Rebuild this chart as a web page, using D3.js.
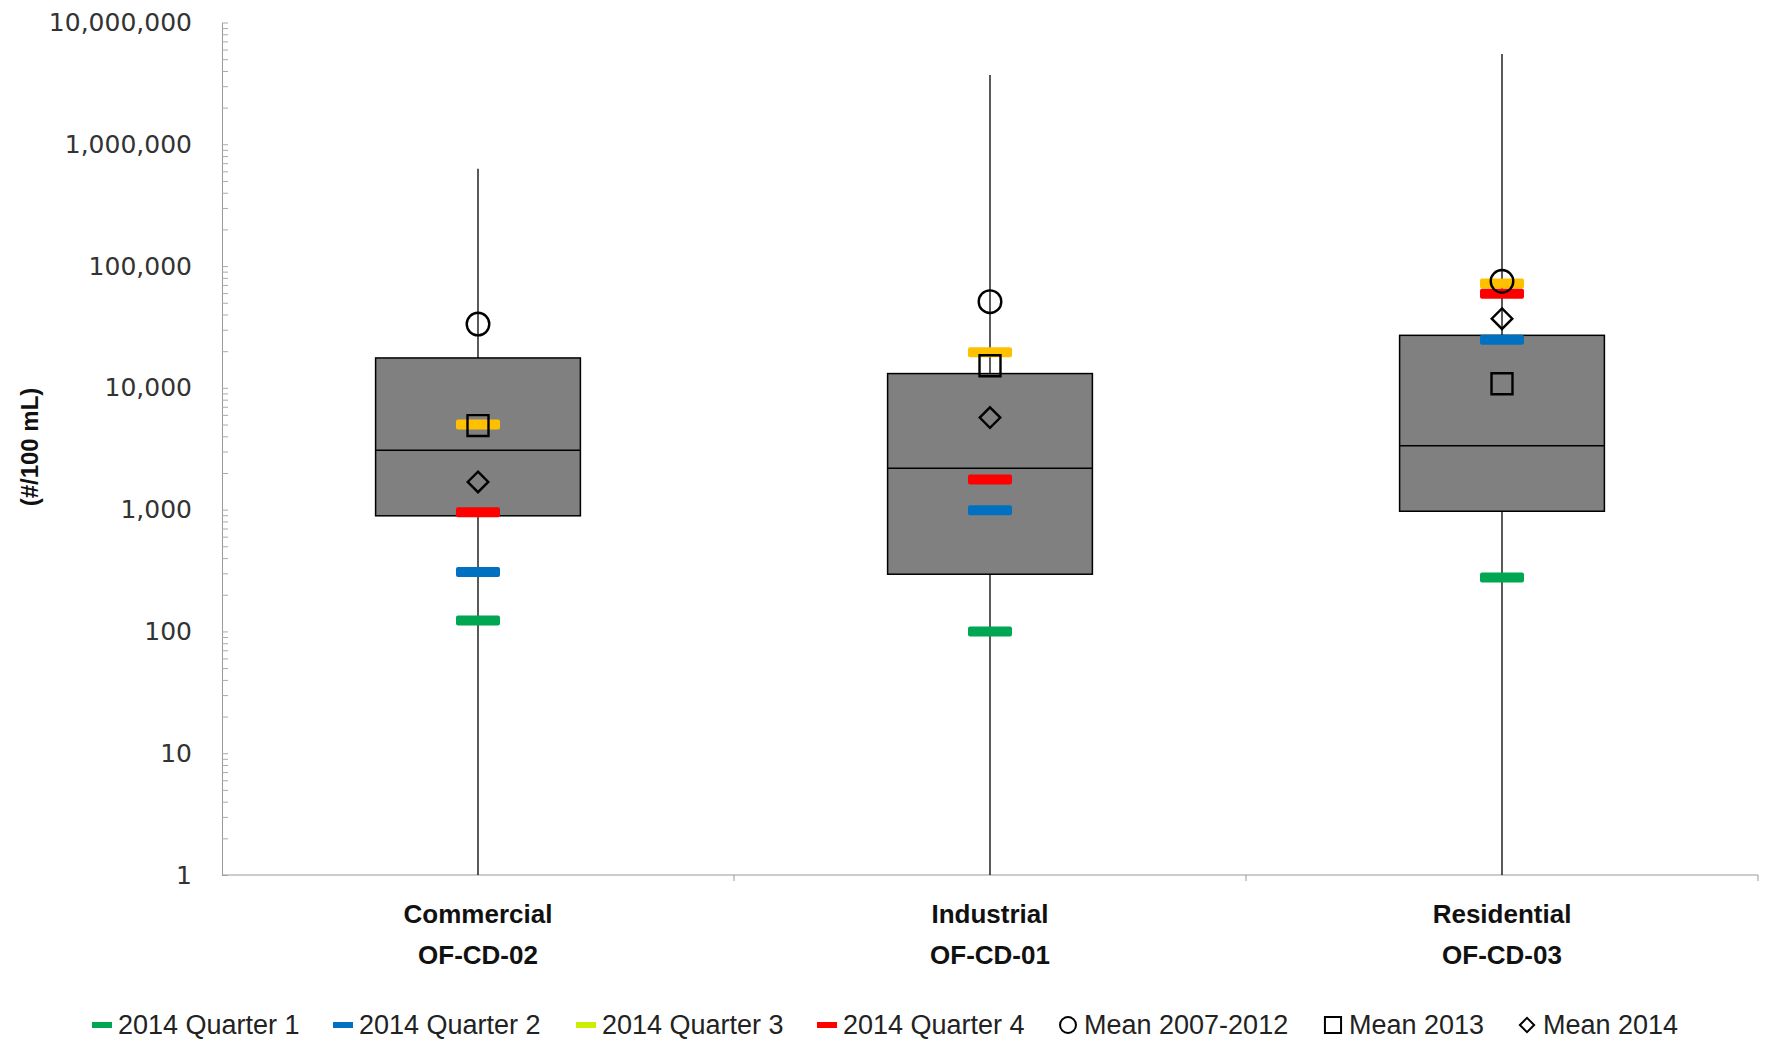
<!DOCTYPE html>
<html lang="en">
<head>
<meta charset="utf-8">
<title>Box plot by land use</title>
<script src="https://cdn.jsdelivr.net/npm/d3@7"></script>
<style>
  body { margin: 0; background: #fff; }
</style>
</head>
<body>
<div id="chart"></div>
<script>
// data
var landUse = ["Commercial", "Industrial", "Residential"];
var sites = ["OF-CD-02", "OF-CD-01", "OF-CD-03"];

var whiskerLow = [1, 1, 1];
var boxQ1 = [890, 295, 970];
var boxMedian = [3070, 2190, 3340];
var boxQ3 = [17600, 13100, 27000];
var whiskerHigh = [630000, 3700000, 5500000];

var quarter1 = [123, 100, 277];
var quarter2 = [308, 990, 24800];
var quarter3 = [5000, 19600, 72000];
var quarter4 = [950, 1770, 59300];

var mean0712 = [33400, 51000, 75000];
var mean2013 = [4900, 15200, 10800];
var mean2014 = [1690, 5700, 37000];

var yTicks = [1, 10, 100, 1000, 10000, 100000, 1000000, 10000000];

var width = 1765, height = 1044;
var plotLeft = 222, plotRight = 1758, plotTop = 22.5, plotBottom = 875;

var svg = d3.select("#chart").append("svg")
    .attr("width", width)
    .attr("height", height);

var x = d3.scaleBand().domain(landUse).range([plotLeft, plotRight]);
var y = d3.scaleLog().domain([1, 1e7]).range([plotBottom, plotTop]);

// minor ticks for each decade
var minor = [];
for (var e = 0; e < 7; e++) {
  for (var m = 1; m < 10; m++) minor.push(m * Math.pow(10, e));
}
minor.push(1e7);

var yAxis = svg.append("g")
    .attr("transform", "translate(" + plotLeft + ",0)")
    .call(d3.axisLeft(y).tickValues(yTicks).tickFormat(d3.format(",")).tickSize(0).tickPadding(30));
yAxis.selectAll("text").attr("font-family", "DejaVu Sans").attr("font-size", 25).attr("fill", "#333");
yAxis.select(".domain").attr("stroke", "#999");

var yMinor = svg.append("g")
    .attr("transform", "translate(" + plotLeft + ",0)")
    .call(d3.axisRight(y).tickValues(minor).tickFormat("").tickSize(6));
yMinor.select(".domain").remove();
yMinor.selectAll("line").attr("stroke", "#aaa");

var xAxis = svg.append("g")
    .attr("transform", "translate(0," + plotBottom + ")");
xAxis.append("line")
    .attr("x1", plotLeft).attr("x2", plotRight)
    .attr("stroke", "#999");
xAxis.selectAll(".bnd")
    .data(landUse.slice(1).concat(["end"]))
  .enter().append("line")
    .attr("x1", function(d) { return d === "end" ? plotRight : x(d); })
    .attr("x2", function(d) { return d === "end" ? plotRight : x(d); })
    .attr("y1", 0).attr("y2", 6)
    .attr("stroke", "#999");

var labels = xAxis.selectAll(".cat")
    .data(landUse)
  .enter().append("text")
    .attr("text-anchor", "middle")
    .attr("font-family", "Liberation Sans Narrow, Arial Narrow, sans-serif")
    .attr("font-weight", "bold")
    .attr("font-size", 26)
    .attr("fill", "#111");
labels.append("tspan")
    .attr("x", function(d) { return x(d) + x.bandwidth() / 2; })
    .attr("y", 48)
    .text(function(d) { return d; });
labels.append("tspan")
    .attr("x", function(d) { return x(d) + x.bandwidth() / 2; })
    .attr("y", 89)
    .text(function(d, i) { return sites[i]; });

svg.append("text")
    .attr("transform", "translate(38,447) rotate(-90)")
    .attr("text-anchor", "middle")
    .attr("font-family", "Liberation Sans Narrow, Arial Narrow, sans-serif")
    .attr("font-weight", "bold")
    .attr("font-size", 24)
    .attr("fill", "#111")
    .text("(#/100 mL)");

var cx = function(i) { return x(landUse[i]) + x.bandwidth() / 2; };
var boxW = x.bandwidth() * 0.4;

var plot = svg.append("g");

landUse.forEach(function(c, i) {
  plot.append("line")
      .attr("x1", cx(i)).attr("x2", cx(i))
      .attr("y1", y(whiskerLow[i])).attr("y2", y(whiskerHigh[i]))
      .attr("stroke", "#000").attr("stroke-width", 1.3);
  plot.append("rect")
      .attr("x", cx(i) - boxW / 2)
      .attr("y", y(boxQ3[i]))
      .attr("width", boxW)
      .attr("height", y(boxQ1[i]) - y(boxQ3[i]))
      .attr("fill", "#808080")
      .attr("stroke", "#000").attr("stroke-width", 1.5);
  plot.append("line")
      .attr("x1", cx(i) - boxW / 2).attr("x2", cx(i) + boxW / 2)
      .attr("y1", y(boxMedian[i])).attr("y2", y(boxMedian[i]))
      .attr("stroke", "#000").attr("stroke-width", 1.5);
});

var quarters = [
  {name: "2014 Quarter 1", values: quarter1, color: "#00a651"},
  {name: "2014 Quarter 2", values: quarter2, color: "#0070c0"},
  {name: "2014 Quarter 3", values: quarter3, color: "#ffc000"},
  {name: "2014 Quarter 4", values: quarter4, color: "#ff0000"}
];

quarters.forEach(function(q) {
  plot.selectAll(null)
      .data(q.values)
    .enter().append("rect")
      .attr("x", function(d, i) { return cx(i) - 22; })
      .attr("y", function(d) { return y(d) - 5; })
      .attr("width", 44)
      .attr("height", 10)
      .attr("rx", 2)
      .attr("fill", q.color);
});

var circleSym = d3.symbol().type(d3.symbolCircle).size(400);
var squareSym = d3.symbol().type(d3.symbolSquare).size(440);
var diamondSym = d3.symbol().type(d3.symbolDiamond2).size(270);

var means = [
  {name: "Mean 2007-2012", values: mean0712, sym: circleSym},
  {name: "Mean 2013", values: mean2013, sym: squareSym},
  {name: "Mean 2014", values: mean2014, sym: diamondSym}
];

means.forEach(function(m) {
  plot.selectAll(null)
      .data(m.values)
    .enter().append("path")
      .attr("transform", function(d, i) { return "translate(" + cx(i) + "," + y(d) + ")"; })
      .attr("d", m.sym)
      .attr("fill", "none")
      .attr("stroke", "#000")
      .attr("stroke-width", 2.4);
});

// legend
var legendX = [92, 333, 576, 817, 1058, 1323, 1517];
var legend = svg.append("g").attr("transform", "translate(0,1025)");

quarters.forEach(function(q, i) {
  legend.append("rect")
      .attr("x", legendX[i]).attr("y", -3)
      .attr("width", 20).attr("height", 6)
      .attr("fill", i === 2 ? "#ccee00" : q.color);
  legend.append("text")
      .attr("x", legendX[i] + 26).attr("y", 9)
      .attr("font-family", "Liberation Sans Narrow, Arial Narrow, sans-serif")
      .attr("font-size", 27)
      .attr("fill", "#222")
      .text(q.name);
});

var legendSyms = [
  d3.symbol().type(d3.symbolCircle).size(200),
  d3.symbol().type(d3.symbolSquare).size(260),
  d3.symbol().type(d3.symbolDiamond2).size(130)
];
means.forEach(function(m, i) {
  var lx = legendX[i + 4];
  legend.append("path")
      .attr("transform", "translate(" + (lx + 10) + ",0)")
      .attr("d", legendSyms[i])
      .attr("fill", "none")
      .attr("stroke", "#000")
      .attr("stroke-width", 2);
  legend.append("text")
      .attr("x", lx + 26).attr("y", 9)
      .attr("font-family", "Liberation Sans Narrow, Arial Narrow, sans-serif")
      .attr("font-size", 27)
      .attr("fill", "#222")
      .text(m.name);
});
</script>
</body>
</html>
